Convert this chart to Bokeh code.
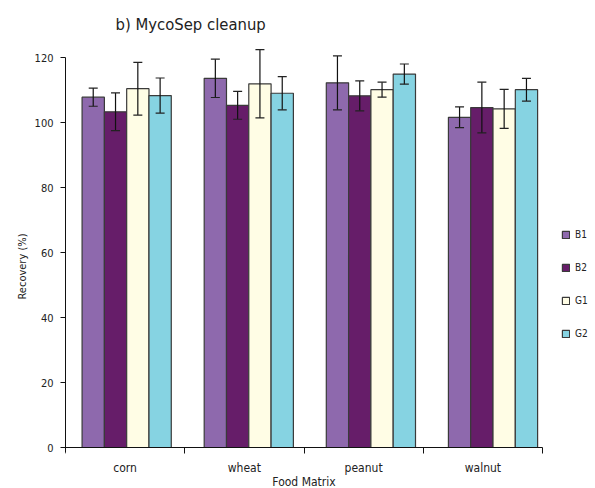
import numpy as np
from bokeh.plotting import figure
from bokeh.models import (ColumnDataSource, Range1d, FixedTicker, Whisker, TeeHead,
                          Legend, LegendItem)
from bokeh.embed import file_html
from bokeh.resources import INLINE

# ---- data ----
categories = ["corn", "wheat", "peanut", "walnut"]
series = ["B1", "B2", "G1", "G2"]
B1 = [107.8, 113.6, 112.2, 101.6]
B1_err = [2.8, 5.9, 8.3, 3.2]
B2 = [103.3, 105.3, 108.2, 104.6]
B2_err = [5.8, 4.3, 4.6, 7.8]
G1 = [110.4, 111.9, 110.1, 104.2]
G1_err = [8.1, 10.5, 2.3, 6.0]
G2 = [108.3, 109.0, 114.9, 110.1]
G2_err = [5.4, 5.1, 3.1, 3.5]
y_ticks = [0, 20, 40, 60, 80, 100, 120]

values = {"B1": B1, "B2": B2, "G1": G1, "G2": G2}
errors = {"B1": B1_err, "B2": B2_err, "G1": G1_err, "G2": G2_err}
colors = {"B1": "#8E69AD", "B2": "#661D69", "G1": "#FFFDE5", "G2": "#86D3E2"}

FONT = "'Liberation Sans Narrow', 'DejaVu Sans Condensed', 'Roboto', sans-serif"
TXT = "#222222"

W, H = 595, 488
LEFT, TOP = 65, 44
AXIS_Y = 447          # pixel row of the zero line
PX_X = 477 / 4.0      # pixels per category
PX_Y = 3.25           # pixels per % unit
x_end = (W - LEFT) / PX_X
y_start = -(H - AXIS_Y) / PX_Y
y_end = 124

p = figure(width=W, height=H, output_backend="svg", toolbar_location=None,
           x_range=Range1d(0, x_end), y_range=Range1d(y_start, y_end),
           min_border_left=LEFT, min_border_right=0, min_border_top=TOP,
           min_border_bottom=0)
p.outline_line_color = None
p.xgrid.visible = False
p.ygrid.visible = False

p.title.text = "b) MycoSep cleanup"
p.title.text_font = FONT
p.title.text_font_size = "16.5px"
p.title.text_font_style = "normal"
p.title.text_color = TXT
p.title.align = "left"
p.title.offset = 50
p.title.standoff = 21

n = len(categories)
group_pitch = 1.024
first_center = 0.513
bar_w = 0.187
offsets = [-1.5 * bar_w, -0.5 * bar_w, 0.5 * bar_w, 1.5 * bar_w]

items = []
for s, off in zip(series, offsets):
    v = np.array(values[s])
    e = np.array(errors[s])
    x = first_center + np.arange(n) * group_pitch + off
    src = ColumnDataSource(dict(x=x, top=v, upper=v + e, lower=v - e))
    r = p.vbar(x="x", top="top", bottom=0, width=bar_w, source=src,
               fill_color=colors[s], line_color="#3a3a3a", line_width=1.2)
    w = Whisker(base="x", upper="upper", lower="lower", source=src, level="overlay",
                line_color="#111111", line_width=1.2,
                upper_head=TeeHead(size=9, line_color="#222222", line_width=1.2),
                lower_head=TeeHead(size=9, line_color="#222222", line_width=1.2))
    p.add_layout(w)
    items.append(LegendItem(label=s, renderers=[r]))

# y axis
ya = p.yaxis[0]
ya.ticker = FixedTicker(ticks=y_ticks)
ya.bounds = (-1.5, 120)
ya.axis_label = "Recovery (%)"
ya.axis_label_text_font = FONT
ya.axis_label_text_font_size = "11px"
ya.axis_label_text_font_style = "normal"
ya.axis_label_text_color = TXT
ya.axis_label_standoff = 3
ya.major_label_text_font = FONT
ya.major_label_text_font_size = "11px"
ya.major_label_text_color = TXT
ya.major_tick_out = 5
ya.major_tick_in = 0
ya.minor_tick_line_color = None
ya.major_label_standoff = 7
ya.axis_line_color = "#111111"
ya.major_tick_line_color = "#111111"

# x axis at y = 0: labels at category centres, ticks at boundaries
xa = p.xaxis[0]
xa.fixed_location = 0
xa.bounds = (0, 4)
xa.ticker = FixedTicker(ticks=[i + 0.5 for i in range(n)],
                        minor_ticks=list(range(n + 1)))
xa.major_label_overrides = {i + 0.5: c for i, c in enumerate(categories)}
xa.major_tick_line_color = None
xa.major_tick_out = 0
xa.major_tick_in = 0
xa.minor_tick_out = 6
xa.minor_tick_in = 0
xa.minor_tick_line_color = "#111111"
xa.axis_line_color = "#111111"
xa.major_label_standoff = 7
xa.major_label_text_font = FONT
xa.major_label_text_font_size = "12px"
xa.major_label_text_color = TXT
xa.axis_label = "Food Matrix"
xa.axis_label_text_font = FONT
xa.axis_label_text_font_size = "12px"
xa.axis_label_text_font_style = "normal"
xa.axis_label_text_color = TXT
xa.axis_label_standoff = -3

legend = Legend(items=items, location=(496, (H - 340)), orientation="vertical",
                glyph_width=9, glyph_height=9, label_height=14, spacing=19,
                label_standoff=5, padding=0, margin=0,
                border_line_color=None, background_fill_alpha=0,
                label_text_font=FONT, label_text_font_size="10px",
                label_text_color=TXT)
p.add_layout(legend, "center")

open("out.html", "w").write(file_html(p, INLINE))
